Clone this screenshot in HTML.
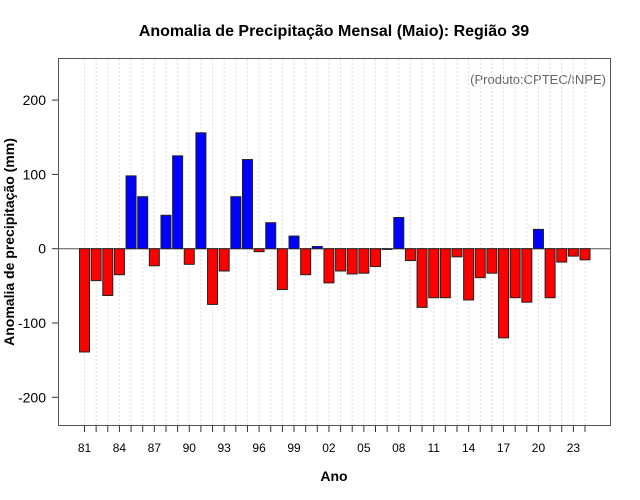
<!DOCTYPE html>
<html><head><meta charset="utf-8"><style>
body{margin:0;background:#fff;}
svg{display:block;font-family:"Liberation Sans",sans-serif;}
</style></head><body>
<svg id="chart" width="640" height="500" viewBox="0 0 640 500">
<text x="334" y="36" text-anchor="middle" font-size="16" font-weight="bold">Anomalia de Precipitação Mensal (Maio): Região 39</text>
<text x="606" y="84" text-anchor="end" font-size="13" fill="#666">(Produto:CPTEC/INPE)</text>
<text transform="translate(14,242) rotate(-90)" text-anchor="middle" font-size="14" font-weight="bold">Anomalia de precipitação (mm)</text>
<text x="334" y="481" text-anchor="middle" font-size="14" font-weight="bold">Ano</text>
<g id="grid"></g><g id="bars"></g><g id="axes"></g>
<rect x="58.5" y="58.5" width="552" height="367" fill="none" stroke="#555" stroke-width="1"/>
</svg>
<script>
const years=[1981,1982,1983,1984,1985,1986,1987,1988,1989,1990,1991,1992,1993,1994,1995,1996,1997,1998,1999,2000,2001,2002,2003,2004,2005,2006,2007,2008,2009,2010,2011,2012,2013,2014,2015,2016,2017,2018,2019,2020,2021,2022,2023,2024];
const anomalies=[-139,-43,-63,-35,98,70,-23,45,125,-21,156,-75,-30,70,120,-4,35,-55,17,-35,3,-46,-30,-34,-33,-24,-1,42,-16,-79,-66,-66,-11,-69,-39,-33,-120,-66,-72,26,-66,-18,-10,-15];
const yTicks=[-200,-100,0,100,200];
const xLabelYears=[1981,1984,1987,1990,1993,1996,1999,2002,2005,2008,2011,2014,2017,2020,2023];
const NS='http://www.w3.org/2000/svg';
const xS=y=>84.5+(y-1981)*11.64;
const yS=v=>248.7-v*0.743;
function mk(t,a,p){const e=document.createElementNS(NS,t);for(const k in a)e.setAttribute(k,a[k]);p.appendChild(e);return e;}
const grid=document.getElementById('grid'),bars=document.getElementById('bars'),axes=document.getElementById('axes');
years.forEach(y=>{
 const l=mk('line',{x1:xS(y),x2:xS(y),y1:59,y2:425,stroke:'#ddd','stroke-dasharray':'2,2'},grid);
 
 
 const t=mk('line',{x1:xS(y),x2:xS(y),y1:426,y2:432,stroke:'#333'},axes);
 
 
});
const z=mk('line',{x1:58.5,x2:610.5,y1:yS(0),y2:yS(0),stroke:'#555'},grid);


anomalies.forEach((v,i)=>{
 const y0=yS(0),y1=yS(v);
 const r=mk('rect',{x:xS(years[i])-5,y:Math.min(y0,y1),width:10,height:Math.max(Math.abs(y1-y0),0.5),fill:v>=0?'#0000ff':'#ff0000',stroke:'#222','stroke-width':1},bars);
 
 
});
yTicks.forEach(v=>{
 const t=mk('line',{x1:52,x2:58.5,y1:yS(v),y2:yS(v),stroke:'#333'},axes);
 
 
 const tx=mk('text',{x:46,y:yS(v)+5,'text-anchor':'end','font-size':14},axes);
 tx.textContent=v;
 
 
});
xLabelYears.forEach(y=>{
 const tx=mk('text',{x:xS(y),y:452,'text-anchor':'middle','font-size':12},axes);
 tx.textContent=String(y).slice(2);
 
 
});
</script>
</body></html>
